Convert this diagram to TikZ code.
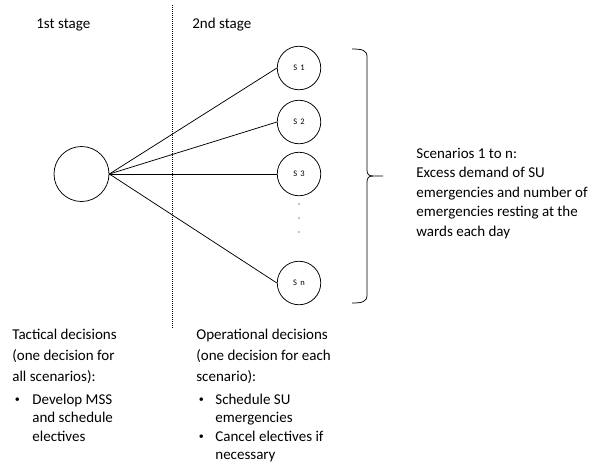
\documentclass[tikz,border=0pt]{standalone}
\usepackage{fontspec}
\setmainfont{Carlito}
\newfontfamily\scenfont[LetterSpace=15]{Carlito}
\newcommand{\smallbullet}{\raisebox{1.2pt}{\fontsize{10}{10}\selectfont •}}
\begin{document}
\begin{tikzpicture}[x=1pt,y=-1pt,
  line width=0.75pt,
  font=\fontsize{15}{18.5}\selectfont,
  stage/.style={circle,draw,inner sep=0pt,minimum size=55pt},
  scen/.style={circle,draw,inner sep=0pt,minimum size=43.5pt,
    font=\scenfont\fontsize{8.5}{10}\selectfont},
  dotmark/.style={circle,fill,inner sep=0pt,minimum size=1.4pt},
  label/.style={anchor=base west,inner sep=0pt,align=left},
  divider/.style={line width=0.8pt,dash pattern=on 1pt off 1pt}]
\useasboundingbox (0,0) rectangle (594,464);

% stage headings and divider
\node[label] (h1) at (36,28) {1st stage};
\node[label] (h2) at (192,28) {2nd stage};
\coordinate (divtop) at (172,5);
\coordinate (divbot) at (172,328);
\draw[divider] (divtop) -- (divbot);

% first-stage decision node and scenario nodes
\node[stage] (root) at (81.5,174) {};
\node[scen] (s1) at (299,68) {S 1};
\node[scen] (s2) at (299,122) {S 2};
\node[scen] (s3) at (299,174) {S 3};
\node[scen] (sn) at (299,283) {S n};
\node[dotmark] (d1) at (299,204) {};
\node[dotmark] (d2) at (299,218) {};
\node[dotmark] (d3) at (299,232) {};

\foreach \s in {s1,s2,s3,sn}
  \draw (root.east) -- (\s.west);

% curly brace grouping the scenarios
\coordinate (bt) at (352,49);
\coordinate (bb) at (352,303);
\coordinate (bm) at (383,176);
\draw (bt) .. controls (362,49) and (367,50) .. (367,57) -- (367,170)
  .. controls (367,174.5) and (369,176) .. (373,176) -- (bm);
\draw (bb) .. controls (362,303) and (367,302) .. (367,295) -- (367,182)
  .. controls (367,177.5) and (369,176) .. (373,176);

\node[label] (scentext) at (416,158) {%
  \begin{tabular}[t]{@{}l@{}}
  Scenarios 1 to n:\\[1pt]
  Excess demand of SU\\[1pt]
  emergencies and number of\\[1pt]
  emergencies resting at the\\[1pt]
  wards each day
  \end{tabular}};

% decision descriptions
\node[label] (tactical) at (12,339) {%
  \begin{tabular}[t]{@{}l@{}}
  Tactical decisions\\[2.5pt]
  (one decision for\\[2.5pt]
  all scenarios):\\[4.5pt]
  \makebox[20pt][l]{\hspace{2.5pt}\smallbullet}Develop MSS\\
  \hspace{20pt}and schedule\\
  \hspace{20pt}electives
  \end{tabular}};
\node[label] (operational) at (196,339) {%
  \begin{tabular}[t]{@{}l@{}}
  Operational decisions\\[2.5pt]
  (one decision for each\\[2.5pt]
  scenario):\\[4.5pt]
  \makebox[19pt][l]{\hspace{2.5pt}\smallbullet}Schedule SU\\
  \hspace{19pt}emergencies\\
  \makebox[19pt][l]{\hspace{2.5pt}\smallbullet}Cancel electives if\\
  \hspace{19pt}necessary
  \end{tabular}};
\end{tikzpicture}
\end{document}
